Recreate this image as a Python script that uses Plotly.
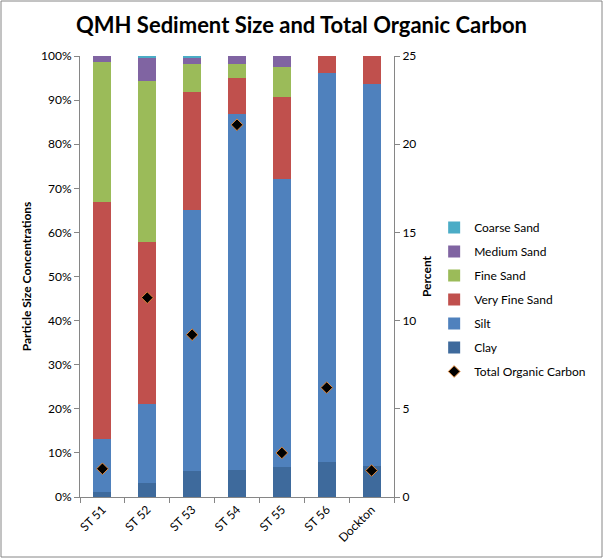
import plotly.graph_objects as go

stations = ["ST 51", "ST 52", "ST 53", "ST 54", "ST 55", "ST 56", "Dockton"]
clay = [1.1, 3.2, 5.9, 6.1, 6.8, 7.9, 7.0]
silt = [12.0, 17.9, 59.2, 80.7, 65.2, 88.3, 86.7]
very_fine_sand = [53.8, 36.7, 26.7, 8.2, 18.7, 3.8, 6.3]
fine_sand = [31.7, 36.6, 6.4, 3.2, 6.8, 0.0, 0.0]
medium_sand = [1.4, 5.1, 1.5, 1.8, 2.5, 0.0, 0.0]
coarse_sand = [0.0, 0.5, 0.3, 0.0, 0.0, 0.0, 0.0]
toc = [1.6, 11.3, 9.2, 21.1, 2.5, 6.2, 1.5]

series = [
    ("Clay", clay, "#3E6A9C", 6),
    ("Silt", silt, "#4F81BD", 5),
    ("Very Fine Sand", very_fine_sand, "#C0504D", 4),
    ("Fine Sand", fine_sand, "#9BBB59", 3),
    ("Medium Sand", medium_sand, "#8064A2", 2),
    ("Coarse Sand", coarse_sand, "#4BACC6", 1),
]

fig = go.Figure()
for name, vals, color, rank in series:
    fig.add_trace(go.Bar(
        x=stations, y=[v / 100 for v in vals], name=name,
        marker=dict(color=color, line=dict(width=0)),
        legendrank=rank, legendgroup=name, yaxis="y",
    ))

fig.add_trace(go.Scatter(
    x=stations, y=toc, name="Total Organic Carbon", mode="markers",
    marker=dict(symbol="diamond", size=9, color="black",
                line=dict(color="#E0873A", width=1)),
    yaxis="y2", legendrank=7, legendgroup="toc",
))

font_family = "Lato, Open Sans, sans-serif"
axis_color = "#868686"

fig.update_layout(
    width=603, height=559,
    barmode="stack", bargap=0.6,
    paper_bgcolor="white", plot_bgcolor="white",
    margin=dict(l=80, r=209, t=56, b=62, autoexpand=False),
    font=dict(family=font_family, size=12, color="black"),
    title=dict(text="<b>QMH Sediment Size and Total Organic Carbon</b>",
               x=0.5, xanchor="center", y=0.955, yanchor="middle",
               font=dict(size=22, family=font_family)),
    xaxis=dict(
        tickangle=-45, ticks="outside", tickson="boundaries", ticklen=5,
        tickcolor=axis_color, showline=True, linecolor=axis_color,
        showgrid=False, tickfont=dict(size=12),
    ),
    yaxis=dict(
        range=[0, 1], dtick=0.1, tickformat=".0%", ticks="outside",
        ticklen=5, tickcolor=axis_color, showline=True, linecolor=axis_color,
        showgrid=False, zeroline=False,
        title=dict(text="<b>Particle Size Concentrations</b>",
                   font=dict(size=12), standoff=6),
    ),
    yaxis2=dict(
        range=[0, 25], dtick=5, overlaying="y", side="right",
        ticks="outside", ticklen=5, tickcolor=axis_color, showline=True,
        linecolor=axis_color, showgrid=False, zeroline=False,
        title=dict(text="<b>Percent</b>", font=dict(size=12), standoff=14),
    ),
    legend=dict(
        xref="container", yref="container",
        x=0.72, xanchor="left", y=0.619, yanchor="top",
        font=dict(size=12), tracegroupgap=5, bgcolor="rgba(0,0,0,0)",
    ),
    showlegend=True,
    shapes=[dict(
        type="rect", xref="paper", yref="paper",
        x0=(1 - 80) / 314, x1=(602 - 80) / 314,
        y0=(497 - 557) / 441, y1=(497 - 1) / 441,
        line=dict(color=axis_color, width=1), fillcolor="rgba(0,0,0,0)",
        layer="below",
    )],
)

fig.write_html("out.html", config={"displayModeBar": False},
               post_script="document.body.style.margin='0';document.body.style.padding='0';")
